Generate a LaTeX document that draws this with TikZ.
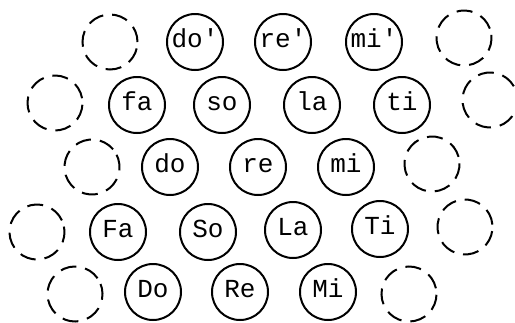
\documentclass[tikz,border=0pt]{standalone}
\usepackage{fontspec}
\newfontfamily\typer{Liberation Mono}
\usetikzlibrary{positioning}

\tikzset{
  note/.style={circle, draw=black, line width=2pt, minimum size=56pt, inner sep=0pt,
    text height=13pt, text depth=3pt,
    font=\typer\fontsize{26}{26}\selectfont},
  blank/.style={circle, draw=black, line width=2pt, minimum size=55pt, inner sep=0pt,
    dash pattern=on 16pt off 9pt},
}

\begin{document}
\begin{tikzpicture}[x=1pt, y=-1pt]
  \useasboundingbox (0,0) rectangle (515,322);

  % top row
  \node[blank] (b1l) at (110,42) {};
  \node[note] (dohi) at (195,42) {do\textquotesingle};
  \node[note] (rehi) at (283,42) {re\textquotesingle};
  \node[note] (mihi) at (374,42) {mi\textquotesingle};
  \node[blank, rotate=20] (b1r) at (464,38) {};

  % second row
  \node[blank, rotate=10] (b2l) at (55,103) {};
  \node[note] (fa) at (137,105) {fa};
  \node[note] (so) at (222,105) {so};
  \node[note] (la) at (312,105) {la};
  \node[note] (ti) at (402,105) {ti};
  \node[blank, rotate=30] (b2r) at (490,100) {};

  % middle row
  \node[blank, rotate=40] (b3l) at (92,167) {};
  \node[note] (do) at (170,167) {do};
  \node[note] (re) at (258,167) {re};
  \node[note] (mi) at (346,167) {mi};
  \node[blank, rotate=15] (b3r) at (432,164) {};

  % fourth row
  \node[blank, rotate=25] (b4l) at (37,232) {};
  \node[note] (Fa) at (118,232) {Fa};
  \node[note] (So) at (208,232) {So};
  \node[note] (La) at (293,230) {La};
  \node[note] (Ti) at (380,229) {Ti};
  \node[blank, rotate=5] (b4r) at (465,227) {};

  % bottom row
  \node[blank, rotate=35] (b5l) at (75,294) {};
  \node[note] (Do) at (153,292) {Do};
  \node[note] (Re) at (240,292) {Re};
  \node[note] (Mi) at (328,292) {Mi};
  \node[blank, rotate=12] (b5r) at (409,294) {};
\end{tikzpicture}
\end{document}
